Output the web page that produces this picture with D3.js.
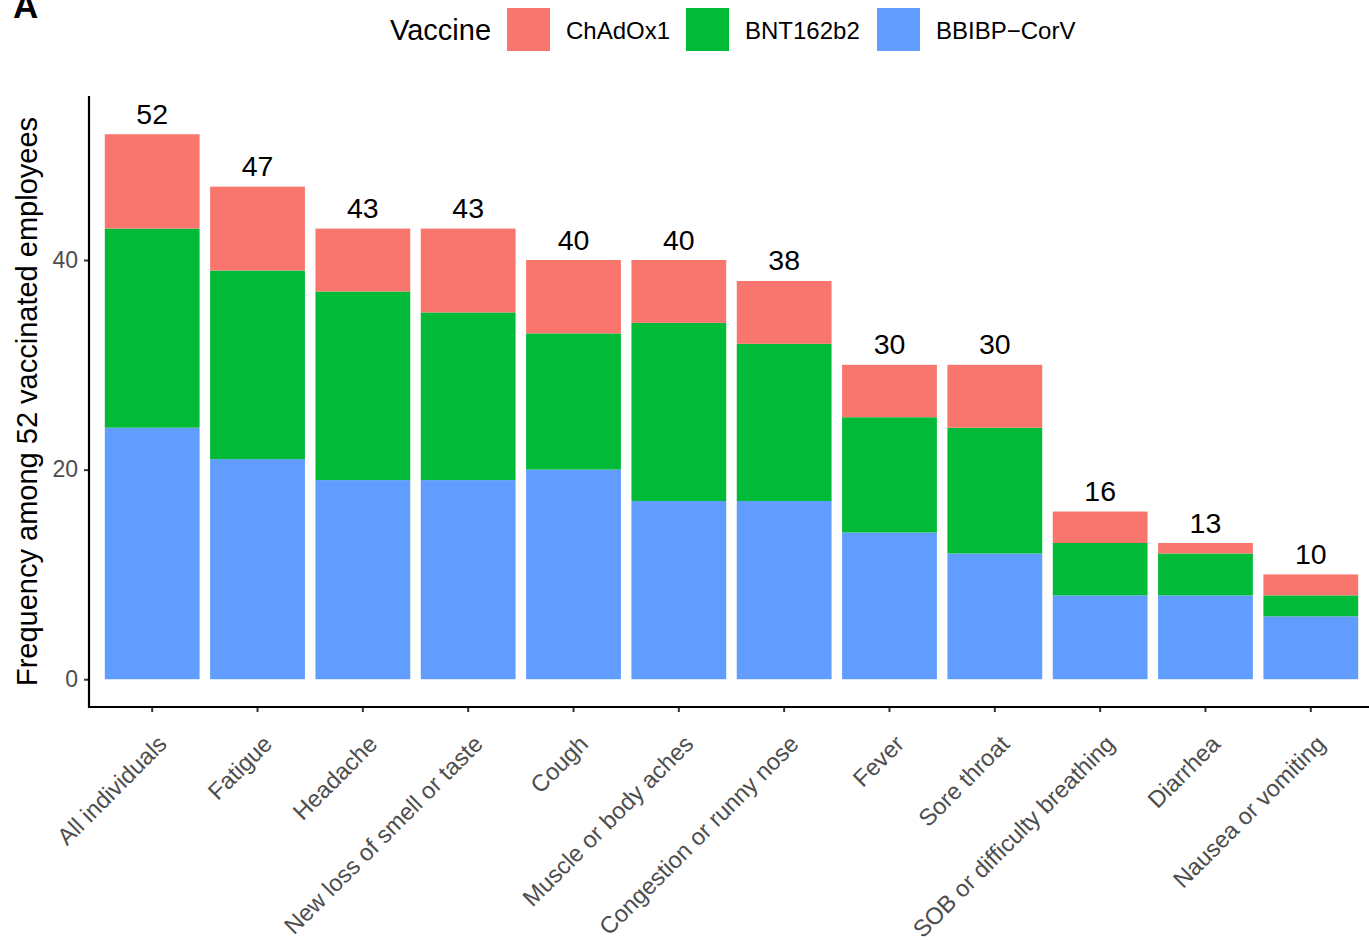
<!DOCTYPE html>
<html>
<head>
<meta charset="utf-8">
<script src="https://cdn.jsdelivr.net/npm/d3@7"></script>
<style>
  html, body { margin: 0; padding: 0; background: #fff; }
  svg { display: block; font-family: "Liberation Sans", Arial, sans-serif; }
</style>
</head>
<body>
<svg id="chart" width="1369" height="940"></svg>
<script>
const categories = ["All individuals","Fatigue","Headache","New loss of smell or taste","Cough","Muscle or body aches","Congestion or runny nose","Fever","Sore throat","SOB or difficulty breathing","Diarrhea","Nausea or vomiting"];
const seriesNames = ["ChAdOx1","BNT162b2","BBIBP\u2212CorV"];
const chadox1 = [9,8,6,8,7,6,6,5,6,3,1,2];
const bnt162b2 = [19,18,18,16,13,17,15,11,12,5,4,2];
const bbibp = [24,21,19,19,20,17,17,14,12,8,8,6];
const yTicks = [0,20,40];
const colors = ["#F8766D","#00BA38","#619CFF"];

(function(){
const svg = d3.select("#chart");
const pL = 89, pR = 1374, pT = 96, pB = 707;

const rows = categories.map((c,i) => ({cat:c, "BBIBP\u2212CorV":bbibp[i], "BNT162b2":bnt162b2[i], "ChAdOx1":chadox1[i]}));
const totals = categories.map((c,i) => chadox1[i]+bnt162b2[i]+bbibp[i]);
const labelOffset = 1;
const dmax = d3.max(totals) + labelOffset;
const ex = dmax * 0.05;

const x = d3.scaleBand().domain(categories).range([pL, pR]).paddingInner(0.1).paddingOuter(0.15);
const y = d3.scaleLinear().domain([-ex, dmax + ex]).range([pB, pT]);
const color = d3.scaleOrdinal().domain(seriesNames).range(colors);

const stack = d3.stack().keys(["BBIBP\u2212CorV","BNT162b2","ChAdOx1"]);
const stacked = stack(rows);

svg.append("g").selectAll("g").data(stacked).join("g")
  .attr("fill", d => color(d.key))
  .selectAll("rect").data(d => d).join("rect")
  .attr("x", d => x(d.data.cat))
  .attr("width", x.bandwidth())
  .attr("y", d => y(d[1]))
  .attr("height", d => y(d[0]) - y(d[1]));

svg.append("g").selectAll("text").data(categories).join("text")
  .attr("x", d => x(d) + x.bandwidth()/2)
  .attr("y", (d,i) => y(totals[i] + labelOffset))
  .attr("text-anchor", "middle")
  .attr("font-size", 28.5)
  .attr("fill", "#000")
  .text((d,i) => totals[i]);

const yAxis = d3.axisLeft(y).tickValues(yTicks).tickSize(5).tickPadding(6);
const gy = svg.append("g").attr("transform", `translate(${pL},0)`).call(yAxis);
gy.select(".domain").remove();
gy.selectAll(".tick line").attr("stroke", "#333").attr("stroke-width", 2);
gy.selectAll(".tick text").attr("font-size", 23).attr("fill", "#4d4d4d").attr("font-family", "Liberation Sans, Arial, sans-serif");

const xAxis = d3.axisBottom(x).tickSize(5).tickPadding(0);
const gx = svg.append("g").attr("transform", `translate(0,${pB})`).call(xAxis);
gx.select(".domain").remove();
gx.selectAll(".tick line").attr("stroke", "#333").attr("stroke-width", 2);
gx.selectAll(".tick text")
  .attr("font-size", 23.6).attr("fill", "#4d4d4d").attr("font-family", "Liberation Sans, Arial, sans-serif")
  .attr("text-anchor", "end")
  .attr("dy", null).attr("y", null)
  .attr("transform", "translate(16,38.5) rotate(-45)");

svg.append("line").attr("x1", pL).attr("x2", pL).attr("y1", pT).attr("y2", pB+1)
  .attr("stroke", "#000").attr("stroke-width", 2.2);
svg.append("line").attr("x1", pL-1).attr("x2", pR).attr("y1", pB).attr("y2", pB)
  .attr("stroke", "#000").attr("stroke-width", 2.2);

svg.append("text")
  .attr("transform", `translate(37,${(pT+pB)/2}) rotate(-90)`)
  .attr("text-anchor", "middle").attr("font-size", 29).attr("fill", "#000")
  .text("Frequency among 52 vaccinated employees");

svg.append("text").attr("x", 13).attr("y", 18).attr("font-size", 35).attr("font-weight", "bold").text("A");

const lg = svg.append("g");
lg.append("text").attr("x", 390).attr("y", 40).attr("font-size", 29).text("Vaccine");
const keyX = [507, 686, 877];
seriesNames.forEach((s,i) => {
  lg.append("rect").attr("x", keyX[i]).attr("y", 8).attr("width", 43).attr("height", 43).attr("fill", color(s));
  lg.append("text").attr("x", keyX[i] + 59).attr("y", 38.5).attr("font-size", 24).text(s);
});
})();
</script>
</body>
</html>
